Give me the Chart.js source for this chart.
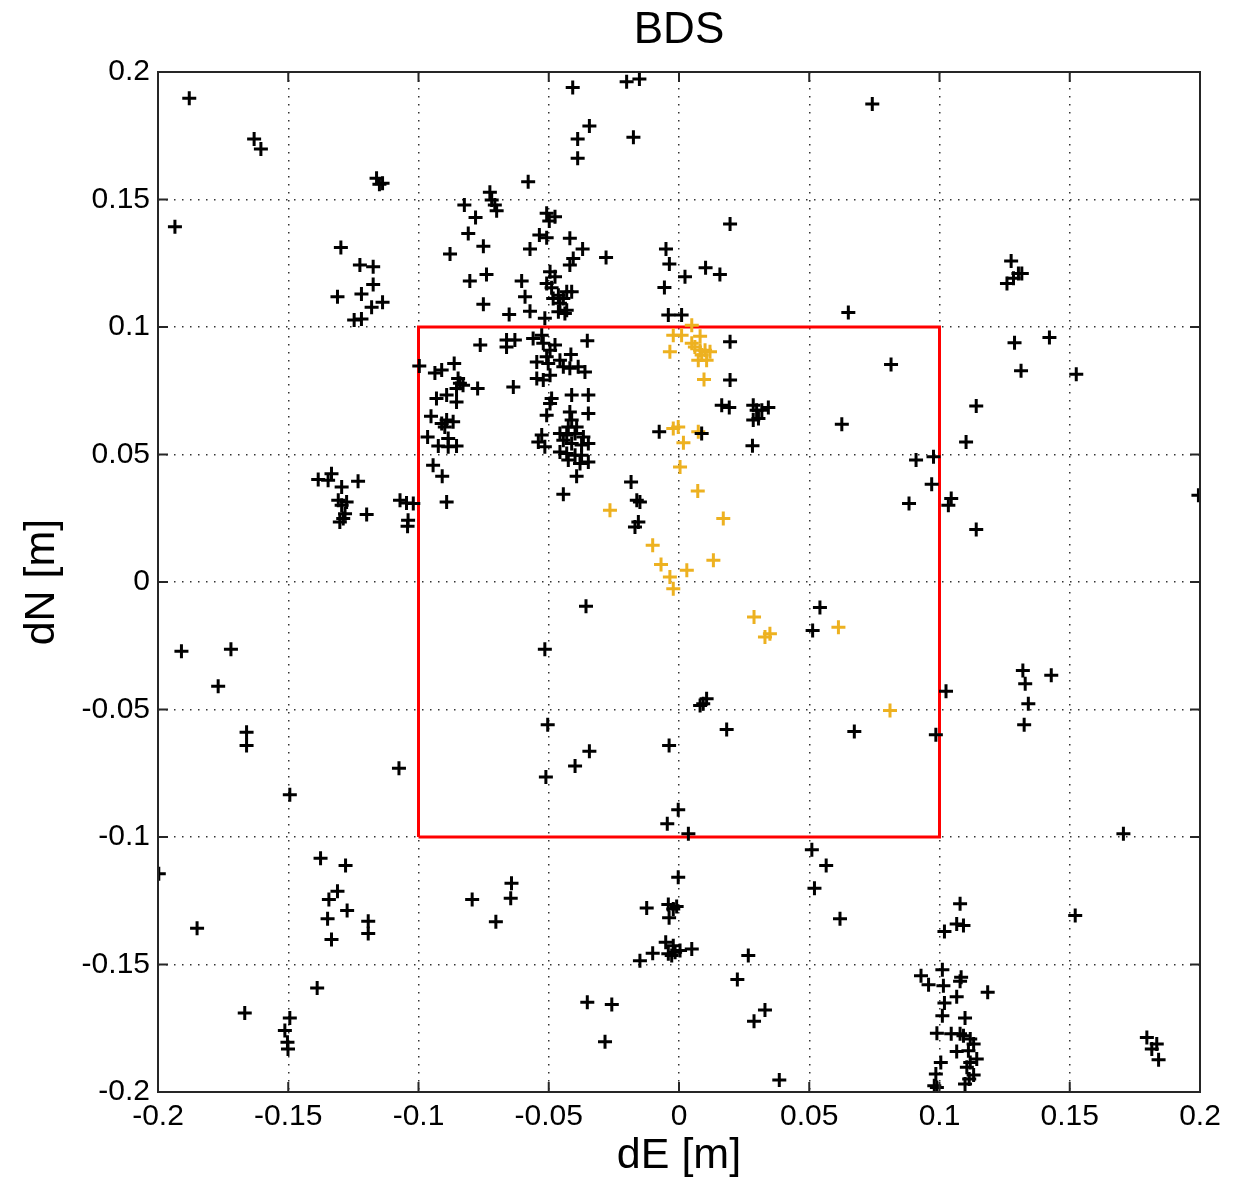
<!DOCTYPE html>
<html>
<head>
<meta charset="utf-8">
<title>BDS</title>
<script src="https://cdn.jsdelivr.net/npm/chart.js@4/dist/chart.umd.min.js"></script>
<style>
  html, body { margin: 0; padding: 0; background: #fff; }
  #wrap { width: 1239px; height: 1182px; position: relative; }
</style>
</head>
<body>
<div id="wrap"><canvas id="chart"></canvas></div>
<script>
// tick values for both axes
const xTicks = [-0.2, -0.15, -0.1, -0.05, 0, 0.05, 0.1, 0.15, 0.2];
const yTicks = [-0.2, -0.15, -0.1, -0.05, 0, 0.05, 0.1, 0.15, 0.2];

// black points (dE, dN)
const blackE = [
  -0.188, -0.1631, -0.1605, -0.1161, -0.1138, -0.115, -0.1935, -0.0726, -0.0719, -0.0707,
  -0.07, -0.0824, -0.0781, -0.0809, -0.0751, -0.0879, -0.0803, -0.0739, -0.0751, -0.1298,
  -0.1225, -0.1174, -0.1174, -0.1311, -0.1219, -0.1138, -0.118, -0.1247, -0.1219,
  -0.0408, -0.0201, -0.0152, -0.0344, -0.0389, -0.0175, -0.0389, -0.0579, -0.0508, -0.0476,
  -0.0498, -0.0536, -0.0508, -0.0419, -0.0572, -0.037, -0.028, -0.0406, -0.0419, -0.005,
  -0.0037, 0.0023, 0.0102, 0.0157, 0.0196, -0.0056, -0.0041, 0.001, 0.065, -0.0604,
  -0.0591, -0.0572, -0.0652, -0.0515, -0.0495, -0.0476, -0.0508, -0.0489, -0.0463, -0.0431,
  -0.0444, -0.0412, -0.0483, -0.0457, -0.0431, -0.0463, -0.0438,
  0.0742, 0.1275, 0.1303, 0.1316, 0.1284, 0.1259,
  -0.0763, -0.0997, -0.0863, -0.0937, -0.0911, -0.0848, -0.0841, -0.0829, -0.0854, -0.0773,
  -0.0931, -0.0892, -0.0854, -0.0952, -0.0911, -0.0892, -0.0867, -0.0899, -0.0965, -0.0924,
  -0.0886, -0.0854, -0.0886, -0.0944, -0.0909, -0.0892, -0.1385, -0.1334, -0.1347, -0.1295,
  -0.1232, -0.1308, -0.1276, -0.1295, -0.1282, -0.1289, -0.1302, -0.1199, -0.1071, -0.1046,
  -0.102, -0.104, -0.1042,
  -0.0662, -0.063, -0.0662, -0.056, -0.0527, -0.0521, -0.0476, -0.0495, -0.0352, -0.0415,
  -0.0546, -0.0508, -0.0502, -0.0457, -0.0444, -0.0419, -0.0387, -0.0361, -0.0546, -0.0521,
  -0.0495, -0.0636, -0.0412, -0.0348, -0.0489, -0.0495, -0.0419, -0.0348, -0.0508, -0.0412,
  -0.0425, -0.0393, -0.0457, -0.0431, -0.0399, -0.0367, -0.0527, -0.054, -0.0515, -0.0444,
  -0.0412, -0.0374, -0.0348, -0.0457, -0.0431, -0.0399, -0.0374, -0.0348, -0.038, -0.0425,
  -0.0393, -0.0444, -0.0076, 0.0087, 0.0196, 0.0196, 0.0164, 0.0193, 0.0285, 0.0298,
  0.0343, 0.0318, 0.0285, 0.0305, 0.0282, 0.0625, -0.0184, -0.0162, -0.015, -0.0156,
  -0.0169,
  0.1288, 0.1422, 0.0814, 0.1313, 0.1525, 0.1141, 0.1102, 0.091, 0.0977, 0.097,
  0.0883, 0.1045, 0.1034, 0.1141, 0.1994,
  -0.191, -0.172, -0.1769, -0.166, -0.166, -0.1494, -0.1075,
  -0.0357, -0.0515, 0.0541, 0.0513, 0.0106, 0.0081, 0.0093, 0.0183, -0.0504, -0.0344,
  -0.0399, -0.0511, -0.0038, -0.0003, -0.0045, 0.0036,
  0.0673, 0.1025, 0.0986, 0.132, 0.1329, 0.1429, 0.1341, 0.1325, 0.1706,
  -0.1997, -0.1376, -0.128, -0.1311, -0.1344, -0.1274, -0.1349, -0.1334, -0.1193, -0.1193,
  -0.185, -0.1389, -0.1667, -0.1494, -0.1513, -0.1503, -0.1501, -0.0794, -0.0703,
  -0.0643, -0.0646, -0.0003, -0.0124, -0.0041, -0.0009, -0.0022, -0.0038, -0.0051, -0.0022,
  -0.0041, -0.0015, 0.0004, -0.0028, 0.0049, -0.0101, -0.015, 0.0266, 0.0224, -0.0352,
  -0.0258, -0.0284, 0.033, 0.0288, 0.0385, 0.051, 0.0565, 0.052, 0.0618,
  0.1079, 0.1066, 0.1092, 0.1019, 0.1521, 0.0929, 0.0958, 0.1011, 0.1015, 0.1083,
  0.1079, 0.1185, 0.1066, 0.1019, 0.1011, 0.1098, 0.099, 0.1045, 0.1079, 0.1092,
  0.1118, 0.1131, 0.1066, 0.1111, 0.1143, 0.1118, 0.1105, 0.1005, 0.1131, 0.1114,
  0.1098, 0.0986, 0.098, 0.099, 0.1796, 0.1834, 0.1815, 0.1841
];
const blackN = [
  0.1897, 0.1737, 0.1698, 0.1583, 0.1564, 0.156, 0.1393, 0.1528, 0.1498, 0.1478,
  0.1456, 0.1478, 0.1429, 0.1367, 0.1317, 0.1286, 0.118, 0.1206, 0.1089, 0.1312,
  0.1243, 0.1236, 0.1167, 0.1119, 0.1129, 0.1097, 0.1077, 0.1027, 0.1031,
  0.1939, 0.1962, 0.1973, 0.1788, 0.1737, 0.1744, 0.1662, 0.157, 0.1446, 0.1432,
  0.1416, 0.1361, 0.135, 0.1348, 0.1306, 0.1306, 0.1273, 0.1269, 0.1243, 0.1306,
  0.1247, 0.1197, 0.1232, 0.1206, 0.1404, 0.1155, 0.1047, 0.1047, 0.1057, 0.118,
  0.1119, 0.1062, 0.1049, 0.1034, 0.1217, 0.1197, 0.1171, 0.1154, 0.1125, 0.1138,
  0.1112, 0.1138, 0.1112, 0.1093, 0.1066, 0.106, 0.1053,
  0.1875, 0.1259, 0.121, 0.121, 0.1191, 0.1171,
  0.0929, 0.0847, 0.0857, 0.082, 0.0831, 0.0798, 0.0779, 0.0772, 0.0759, 0.0759,
  0.072, 0.0733, 0.0706, 0.065, 0.0622, 0.0635, 0.0628, 0.0608, 0.0569, 0.0533,
  0.0563, 0.0533, 0.053, 0.0458, 0.0415, 0.0314, 0.0402, 0.0425, 0.0399, 0.0373,
  0.0395, 0.0321, 0.0314, 0.0301, 0.0268, 0.0249, 0.0235, 0.0265, 0.0321, 0.031,
  0.0308, 0.0242, 0.0219,
  0.0949, 0.0949, 0.0922, 0.0955, 0.0968, 0.0936, 0.0929, 0.0909, 0.0946, 0.0892,
  0.0863, 0.0883, 0.0857, 0.087, 0.0844, 0.0838, 0.0844, 0.0824, 0.0798, 0.0792,
  0.0811, 0.0765, 0.0733, 0.0733, 0.072, 0.07, 0.0667, 0.0661, 0.0654, 0.0635,
  0.0608, 0.0608, 0.0582, 0.0576, 0.0582, 0.0569, 0.0576, 0.0549, 0.053, 0.0556,
  0.0543, 0.0537, 0.0543, 0.051, 0.0504, 0.0497, 0.0497, 0.0471, 0.0465, 0.0478,
  0.0415, 0.0344, 0.0589, 0.0582, 0.0942, 0.0792, 0.0693, 0.0684, 0.0693, 0.0674,
  0.0684, 0.0674, 0.0635, 0.0641, 0.0534, 0.0619, 0.0392, 0.0321, 0.0314, 0.0235,
  0.0216,
  0.0938, 0.0959, 0.0853, 0.0828, 0.0815, 0.069, 0.0549, 0.0478, 0.0491, 0.0383,
  0.0308, 0.0327, 0.0301, 0.0206, 0.034,
  -0.0272, -0.0264, -0.0409, -0.0589, -0.0641, -0.0834, -0.073,
  -0.0095, -0.0264, -0.01, -0.019, -0.0458, -0.0484, -0.0477, -0.0578, -0.056, -0.0664,
  -0.0722, -0.0765, -0.0641, -0.0893, -0.0948, -0.0987,
  -0.0586, -0.0428, -0.0599, -0.0347, -0.0399, -0.0366, -0.0477, -0.056, -0.0987,
  -0.1144, -0.1083, -0.1112, -0.1213, -0.1245, -0.1288, -0.1321, -0.1402, -0.133, -0.1378,
  -0.1358, -0.1592, -0.169, -0.171, -0.1759, -0.1805, -0.1831, -0.1245, -0.1332,
  -0.1181, -0.124, -0.1158, -0.1278, -0.1265, -0.1273, -0.1282, -0.1317, -0.1413, -0.1426,
  -0.1458, -0.1452, -0.1445, -0.1465, -0.1439, -0.1456, -0.1485, -0.1465, -0.1559, -0.1648,
  -0.1657, -0.1803, -0.1678, -0.1723, -0.1953, -0.105, -0.1112, -0.1201, -0.1321,
  -0.1262, -0.1341, -0.1347, -0.1371, -0.1308, -0.1544, -0.1579, -0.1521, -0.1583, -0.155,
  -0.1566, -0.1609, -0.1626, -0.1651, -0.1701, -0.171, -0.177, -0.1772, -0.1772, -0.1779,
  -0.1792, -0.1812, -0.1841, -0.1838, -0.1871, -0.1884, -0.1903, -0.1884, -0.1933, -0.1949,
  -0.1969, -0.1929, -0.1975, -0.1982, -0.1786, -0.1812, -0.1831, -0.1874
];

// orange points (dE, dN)
const orangeE = [
  0.0049, -0.0022, 0.001, 0.0081, -0.0035, 0.0049, 0.0061, 0.0081, 0.01, 0.0119,
  0.0087, 0.0106, 0.0074, 0.0096, -0.0022, -0.0003, 0.0074, 0.0017, 0.0004, 0.0072,
  -0.0265, 0.017, -0.0101, -0.0069, 0.003, -0.0035, -0.0022, 0.0132, 0.0288, 0.033,
  0.0349, 0.0612, 0.081
];
const orangeN = [
  0.1007, 0.0968, 0.0968, 0.0964, 0.0903, 0.0936, 0.0922, 0.0909, 0.0909, 0.0903,
  0.089, 0.087, 0.087, 0.0794, 0.0602, 0.0608, 0.0589, 0.0546, 0.0451, 0.0357,
  0.0281, 0.0249, 0.0144, 0.0069, 0.0046, 0.002, -0.0026, 0.0085, -0.0137, -0.0216,
  -0.0203, -0.0177, -0.0504
];

// red reference square
const squareE = [-0.1, 0.1, 0.1, -0.1, -0.1];
const squareN = [-0.1, -0.1, 0.1, 0.1, -0.1];

const titleText = "BDS";

const toPoints = (xs, ys) => xs.map((x, i) => ({ x: x, y: ys[i] }));

const fontFamily = "'Liberation Sans', Arial, Helvetica, sans-serif";

const fmt = (v) => {
  const n = Number(v.toFixed(2));
  return n === 0 ? "0" : String(n);
};

// frame with inward ticks, like the matlab box, and the title centred on the axes
const framePlugin = {
  id: "frame",
  afterDraw(chart) {
    const { ctx, chartArea: a, scales } = chart;
    ctx.save();
    ctx.strokeStyle = "#262626";
    ctx.lineWidth = 2;
    ctx.strokeRect(a.left, a.top, a.right - a.left, a.bottom - a.top);
    ctx.beginPath();
    xTicks.forEach((v) => {
      const px = scales.x.getPixelForValue(v);
      ctx.moveTo(px, a.bottom);
      ctx.lineTo(px, a.bottom - 10);
      ctx.moveTo(px, a.top);
      ctx.lineTo(px, a.top + 10);
    });
    yTicks.forEach((v) => {
      const py = scales.y.getPixelForValue(v);
      ctx.moveTo(a.left, py);
      ctx.lineTo(a.left + 10, py);
      ctx.moveTo(a.right, py);
      ctx.lineTo(a.right - 10, py);
    });
    ctx.stroke();

    ctx.fillStyle = "#000";
    ctx.font = "44px " + fontFamily;
    ctx.textAlign = "center";
    ctx.textBaseline = "middle";
    ctx.fillText(titleText, (a.left + a.right) / 2, 31);
    ctx.restore();
  },
};

const ctx = document.getElementById("chart");

new Chart(ctx, {
  type: "scatter",
  data: {
    datasets: [
      {
        label: "black",
        data: toPoints(blackE, blackN),
        pointStyle: "cross",
        pointRadius: 7,
        pointBorderWidth: 3,
        borderColor: "#000000",
        backgroundColor: "#000000",
      },
      {
        label: "orange",
        data: toPoints(orangeE, orangeN),
        pointStyle: "cross",
        pointRadius: 7,
        pointBorderWidth: 3,
        borderColor: "#EDB120",
        backgroundColor: "#EDB120",
      },
      {
        label: "square",
        data: toPoints(squareE, squareN),
        showLine: true,
        pointRadius: 0,
        borderColor: "#FF0000",
        borderWidth: 3,
        fill: false,
      },
    ],
  },
  options: {
    responsive: true,
    maintainAspectRatio: false,
    animation: false,
    layout: { padding: { left: 0, right: 39, top: 72, bottom: 0 } },
    plugins: {
      legend: { display: false },
      tooltip: { enabled: false },
      title: { display: false },
    },
    scales: {
      x: {
        type: "linear",
        min: -0.2,
        max: 0.2,
        afterBuildTicks: (scale) => {
          scale.ticks = xTicks.map((v) => ({ value: v }));
        },
        afterFit: (scale) => {
          scale.height = 90;
        },
        ticks: {
          color: "#000",
          font: { family: fontFamily, size: 30 },
          padding: 7,
          maxRotation: 0,
          callback: (v) => fmt(v),
        },
        grid: {
          color: "#333",
          lineWidth: 1.5,
          drawTicks: false,
        },
        border: { display: false, dash: [1.5, 6.5] },
        title: {
          display: true,
          text: "dE [m]",
          color: "#000",
          font: { family: fontFamily, size: 43 },
          padding: { top: 0, bottom: 0 },
        },
      },
      y: {
        type: "linear",
        min: -0.2,
        max: 0.2,
        afterBuildTicks: (scale) => {
          scale.ticks = yTicks.map((v) => ({ value: v }));
        },
        afterFit: (scale) => {
          scale.width = 158;
        },
        ticks: {
          color: "#000",
          font: { family: fontFamily, size: 30 },
          padding: 8,
          callback: (v) => fmt(v),
        },
        grid: {
          color: "#333",
          lineWidth: 1.5,
          drawTicks: false,
        },
        border: { display: false, dash: [1.5, 6.5] },
        title: {
          display: true,
          text: "dN [m]",
          color: "#000",
          font: { family: fontFamily, size: 43 },
          padding: { top: 16, bottom: 0 },
        },
      },
    },
  },
  plugins: [framePlugin],
});
</script>
</body>
</html>
